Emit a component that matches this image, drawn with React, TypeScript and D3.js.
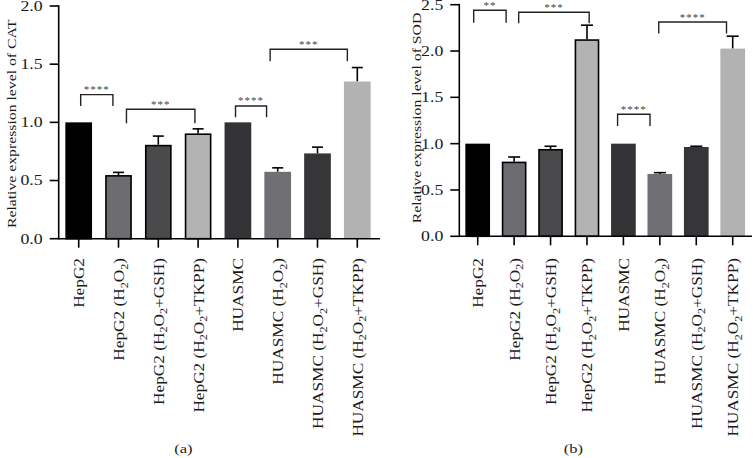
import React from "react";
import * as d3 from "d3";

const categories = [
  "HepG2",
  "HepG2 (H2O2)",
  "HepG2 (H2O2+GSH)",
  "HepG2 (H2O2+TKPP)",
  "HUASMC",
  "HUASMC (H2O2)",
  "HUASMC (H2O2+GSH)",
  "HUASMC (H2O2+TKPP)",
];

const catMeans = [1.0, 0.547, 0.807, 0.905, 1.0, 0.575, 0.733, 1.351];
const catErrs = [0, 0.023, 0.075, 0.039, 0, 0.034, 0.054, 0.12];
const sodMeans = [1.0, 0.806, 0.943, 2.127, 1.0, 0.673, 0.964, 2.026];
const sodErrs = [0, 0.05, 0.029, 0.152, 0, 0.014, 0.008, 0.134];

const catTicks = [0, 0.5, 1.0, 1.5, 2.0];
const sodTicks = [0, 0.5, 1.0, 1.5, 2.0, 2.5];

const barFills = ["#000000", "#6d6d71", "#4a4a4d", "#b3b3b3", "#333335", "#6f6f74", "#363638", "#b2b2b2"];
const barOutlined = [true, true, true, true, false, false, false, false];

// significance brackets: positions in category-index units, heights in data units
const catSig = [
  { from: 0.05, to: 0.86, top: 1.238, bottom: 1.141, label: "****" },
  { from: 1.2, to: 2.92, top: 1.112, bottom: 0.992, label: "***" },
  { from: 3.94, to: 4.72, top: 1.141, bottom: 1.043, label: "****" },
  { from: 4.81, to: 6.75, top: 1.628, bottom: 1.525, label: "***" },
];
const sodSig = [
  { from: -0.11, to: 0.78, top: 2.44, bottom: 2.306, label: "**" },
  { from: 1.125, to: 3.06, top: 2.418, bottom: 2.3, label: "***" },
  { from: 3.84, to: 4.73, top: 1.317, bottom: 1.19, label: "****" },
  { from: 4.97, to: 6.83, top: 2.313, bottom: 2.19, label: "****" },
];

const FONT = "'Liberation Serif', 'Times New Roman', serif";
const SX = 1.27;
const TICK_FS = 14;
const LABEL_FS = 13.6;
const TITLE_FS = 12.4;
const TAG_FS = 13;

function STxt({ x, y, rot = false, anchor = "start", size = 13, dy = "0", fill = "#1a1a1a", children }: any) {
  return (
    <g transform={`translate(${x},${y})${rot ? " rotate(-90)" : ""} scale(${SX},1)`}>
      <text textAnchor={anchor} fontSize={size} dy={dy} fill={fill} fontFamily={FONT}>
        {children}
      </text>
    </g>
  );
}

function labelParts(s: string) {
  const parts = s.split("H2O2");
  const out: any[] = [];
  parts.forEach((p, i) => {
    if (i > 0) {
      out.push(<tspan key={`h${i}`}>H</tspan>);
      out.push(<tspan key={`a${i}`} dy={3.5} fontSize={LABEL_FS * 0.7}>2</tspan>);
      out.push(<tspan key={`o${i}`} dy={-3.5}>O</tspan>);
      out.push(<tspan key={`b${i}`} dy={3.5} fontSize={LABEL_FS * 0.7}>2</tspan>);
      out.push(<tspan key={`p${i}`} dy={-3.5}>{p}</tspan>);
    } else {
      out.push(<tspan key={`s${i}`}>{p}</tspan>);
    }
  });
  return out;
}

function Panel({ title, means, errs, ticks, sig, yMax, axisX, y0, y1, c0, c1, axisEnd, barW, capW, titleX, titleY, tag, tagX }: any) {
  const y = d3.scaleLinear().domain([0, yMax]).range([y0, y1]);
  const x = d3.scalePoint<string>().domain(categories).range([c0, c1]);
  const xi = d3.scaleLinear().domain([0, categories.length - 1]).range([c0, c1]);
  const sw = 1.6;
  return (
    <g>
      {categories.map((c, i) => {
        const cx = x(c)!;
        const top = y(means[i]);
        const o = barOutlined[i] ? 0.8 : 0;
        return (
          <g key={c}>
            {errs[i] > 0 && (
              <g stroke="#000" strokeWidth={1.6}>
                <line x1={cx} x2={cx} y1={top} y2={y(means[i] + errs[i])} />
                <line x1={cx - capW / 2} x2={cx + capW / 2} y1={y(means[i] + errs[i])} y2={y(means[i] + errs[i])} />
              </g>
            )}
            <rect
              x={cx - barW / 2 + o}
              y={top + o}
              width={barW - 2 * o}
              height={y0 - top - o}
              fill={barFills[i]}
              stroke={barOutlined[i] ? "#000" : "none"}
              strokeWidth={1.6}
            />
          </g>
        );
      })}
      <line x1={axisX} x2={axisX} y1={y(yMax) - 0.8} y2={y0 + 0.8} stroke="#000" strokeWidth={sw} />
      <line x1={axisX} x2={axisEnd} y1={y0} y2={y0} stroke="#000" strokeWidth={sw} />
      {ticks.map((t: number) => (
        <g key={t}>
          <line x1={axisX - 9} x2={axisX} y1={y(t)} y2={y(t)} stroke="#000" strokeWidth={sw} />
          <STxt x={axisX - 16} y={y(t)} anchor="end" dy="0.35em" size={TICK_FS}>
            {d3.format(".1f")(t)}
          </STxt>
        </g>
      ))}
      {categories.map((c) => (
        <g key={"t" + c}>
          <line x1={x(c)} x2={x(c)} y1={y0} y2={y0 + 9} stroke="#000" strokeWidth={sw} />
          <STxt x={x(c)! + 5.5} y={258} rot anchor="end" size={LABEL_FS}>
            {labelParts(c)}
          </STxt>
        </g>
      ))}
      {sig.map((s: any, k: number) => {
        const xa = xi(s.from);
        const xb = xi(s.to);
        const yt = y(s.top);
        const yb = y(s.bottom);
        return (
          <g key={"s" + k}>
            <path d={`M${xa},${yb}V${yt}H${xb}V${yb}`} fill="none" stroke="#222" strokeWidth={1.4} />
            <text x={(xa + xb) / 2} y={yt - 1.5} textAnchor="middle" fontSize={11} letterSpacing={1} fill="#444" fontFamily={FONT}>
              {s.label}
            </text>
          </g>
        );
      })}
      <STxt x={titleX} y={titleY} rot anchor="middle" size={TITLE_FS}>
        {title}
      </STxt>
      <STxt x={tagX} y={453} anchor="middle" size={TAG_FS}>
        {tag}
      </STxt>
    </g>
  );
}

export default function App() {
  return (
    <svg
      width={753}
      height={458}
      viewBox="0 0 753 458"
      style={{ position: "absolute", left: 0, top: 0, background: "#fff", display: "block" }}
    >
      <rect width={753} height={458} fill="#fff" />
      <Panel
        title="Relative expression level of CAT"
        means={catMeans}
        errs={catErrs}
        ticks={catTicks}
        sig={catSig}
        yMax={2.0}
        axisX={58.7}
        y0={238.7}
        y1={6}
        c0={78.7}
        c1={357.3}
        axisEnd={380}
        barW={26.7}
        capW={11}
        titleX={16}
        titleY={123.7}
        tag="(a)"
        tagX={183.3}
      />
      <Panel
        title="Relative expression level of SOD"
        means={sodMeans}
        errs={sodErrs}
        ticks={sodTicks}
        sig={sodSig}
        yMax={2.5}
        axisX={459.3}
        y0={236.3}
        y1={4.7}
        c0={477.7}
        c1={732.7}
        axisEnd={752}
        barW={24.7}
        capW={12}
        titleX={421}
        titleY={118}
        tag="(b)"
        tagX={573.3}
      />
    </svg>
  );
}
